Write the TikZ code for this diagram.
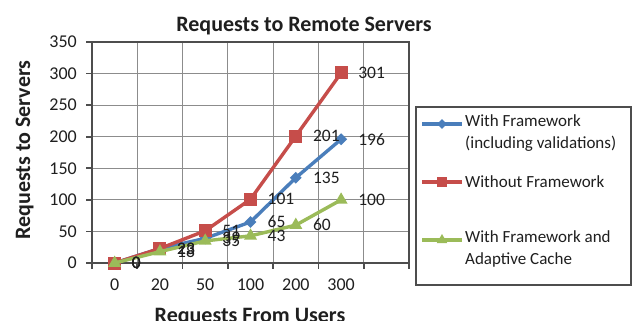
\documentclass[tikz,border=0pt]{standalone}
\usepackage{fontspec}
\setmainfont{Carlito}
\usetikzlibrary{shapes.geometric,calc}

\definecolor{serblue}{HTML}{4A7EBB}
\definecolor{serred}{HTML}{C64D4A}
\definecolor{sergreen}{HTML}{9BBB59}
\definecolor{gridgray}{HTML}{8C8C8C}
\definecolor{axisgray}{HTML}{4D4D4D}
\definecolor{inkdark}{HTML}{1F1F1F}

\tikzset{
  gridline/.style={draw=gridgray, line width=1.2pt},
  axisline/.style={draw=axisgray, line width=1.6pt},
  blueline/.style={draw=serblue, line width=3.4pt, line join=round},
  redline/.style={draw=serred, line width=3.4pt, line join=round},
  greenline/.style={draw=sergreen, line width=3.4pt, line join=round},
  bdia/.style={diamond, fill=serblue, inner sep=0pt, minimum size=12pt},
  rsq/.style={rectangle, fill=serred, inner sep=0pt, minimum size=13pt},
  gtri/.style={regular polygon, regular polygon sides=3, fill=sergreen, inner sep=0pt, minimum size=15pt},
  dlab/.style={anchor=west, text=inkdark, inner sep=0pt, font=\fontsize{17.5}{20}\selectfont},
  ticklab/.style={text=inkdark, inner sep=0pt, font=\fontsize{18}{20}\selectfont},
  axtitle/.style={text=inkdark, inner sep=0pt, font=\bfseries\fontsize{22}{25}\selectfont},
  legtext/.style={anchor=west, align=left, text=inkdark, inner sep=0pt, font=\fontsize{17}{22.5}\selectfont},
}

\begin{document}
\begin{tikzpicture}[x=1pt, y=-1pt]
\clip (0,0) rectangle (634,321);
\fill[white] (0,0) rectangle (634,321);

% plot area: x 92..409, y 42..263 (0..350)
\foreach \k in {1,...,6}
  \draw[gridline] ({92+45.29*\k},42) -- ({92+45.29*\k},263);
\foreach \v in {50,100,...,300}
  \draw[gridline] (92,{263-0.6314*\v}) -- (409,{263-0.6314*\v});
\draw[draw=axisgray, line width=1.4pt] (92,42) -- (409,42) -- (409,263);
\draw[axisline] (92,42) -- (92,263) -- (409,263);

% tick marks
\foreach \v in {0,50,...,350}
  \draw[axisline] (86,{263-0.6314*\v}) -- (92,{263-0.6314*\v});
\foreach \k in {0,...,7}
  \draw[axisline] ({92+45.29*\k},263) -- ({92+45.29*\k},269);

% tick labels
\foreach \v in {0,50,...,350}
  \node[ticklab, anchor=east] (yt\v) at (77,{263-0.6314*\v}) {\v};
\foreach \c [count=\i from 0] in {0,20,50,100,200,300}
  \node[ticklab] (xt\i) at ({92+45.29*(\i+0.5)},285) {\c};

% titles
\node[axtitle, anchor=base] (title) at (304,32) {Requests to Remote Servers};
\node[axtitle, anchor=base] (xtitle) at (250,322) {Requests From Users};
\node[axtitle, rotate=90, anchor=base] (ytitle) at (30,150) {Requests to Servers};

% data points
\foreach \v [count=\i from 0] in {0,23,39,65,135,196}
  \coordinate (b\i) at ({92+45.29*(\i+0.5)},{263-0.6314*\v});
\foreach \v [count=\i from 0] in {0,23,51,101,201,301}
  \coordinate (r\i) at ({92+45.29*(\i+0.5)},{263-0.6314*\v});
\foreach \v [count=\i from 0] in {0,18,35,43,60,100}
  \coordinate (g\i) at ({92+45.29*(\i+0.5)},{263-0.6314*\v});

% series: with framework
\draw[blueline] (b0) -- (b1) -- (b2) -- (b3) -- (b4) -- (b5);
\foreach \i in {0,...,5} \node[bdia] (bm\i) at (b\i) {};
% series: without framework
\draw[redline] (r0) -- (r1) -- (r2) -- (r3) -- (r4) -- (r5);
\foreach \i in {0,...,5} \node[rsq] (rm\i) at (r\i) {};
% series: with framework and adaptive cache
\draw[greenline] (g0) -- (g1) -- (g2) -- (g3) -- (g4) -- (g5);
\foreach \i in {0,...,5} \node[gtri] (gm\i) at (g\i) {};

% data labels
\foreach \v [count=\i from 0] in {0,23,39,65,135,196}
  \node[dlab] (bl\i) at ([xshift=17pt]b\i) {\v};
\foreach \v [count=\i from 0] in {0,23,51,101,201,301}
  \node[dlab] (rl\i) at ([xshift=17pt]r\i) {\v};
\foreach \v [count=\i from 0] in {0,18,35,43,60,100}
  \node[dlab] (gl\i) at ([xshift=17pt]g\i) {\v};

% legend
\draw[draw=axisgray, line width=1.4pt] (416,107) rectangle (631,285);
\coordinate (lb0) at (422,124); \coordinate (lb1) at (462,124);
\coordinate (lr0) at (422,182); \coordinate (lr1) at (462,182);
\coordinate (lg0) at (422,240); \coordinate (lg1) at (462,240);
\draw[blueline] (lb0) -- (lb1);
\node[bdia, minimum size=10pt] (lbm) at ($(lb0)!0.5!(lb1)$) {};
\draw[redline] (lr0) -- (lr1);
\node[rsq, minimum size=10pt] (lrm) at ($(lr0)!0.5!(lr1)$) {};
\draw[greenline] (lg0) -- (lg1);
\node[gtri, minimum size=12pt] (lgm) at ($(lg0)!0.5!(lg1)$) {};
\node[legtext, anchor=north west] (lbt) at (465,114) {With Framework\\(including validations)};
\node[legtext] (lrt) at (465,182) {Without Framework};
\node[legtext, anchor=north west] (lgt) at (465,230) {With Framework and\\Adaptive Cache};
\end{tikzpicture}
\end{document}
